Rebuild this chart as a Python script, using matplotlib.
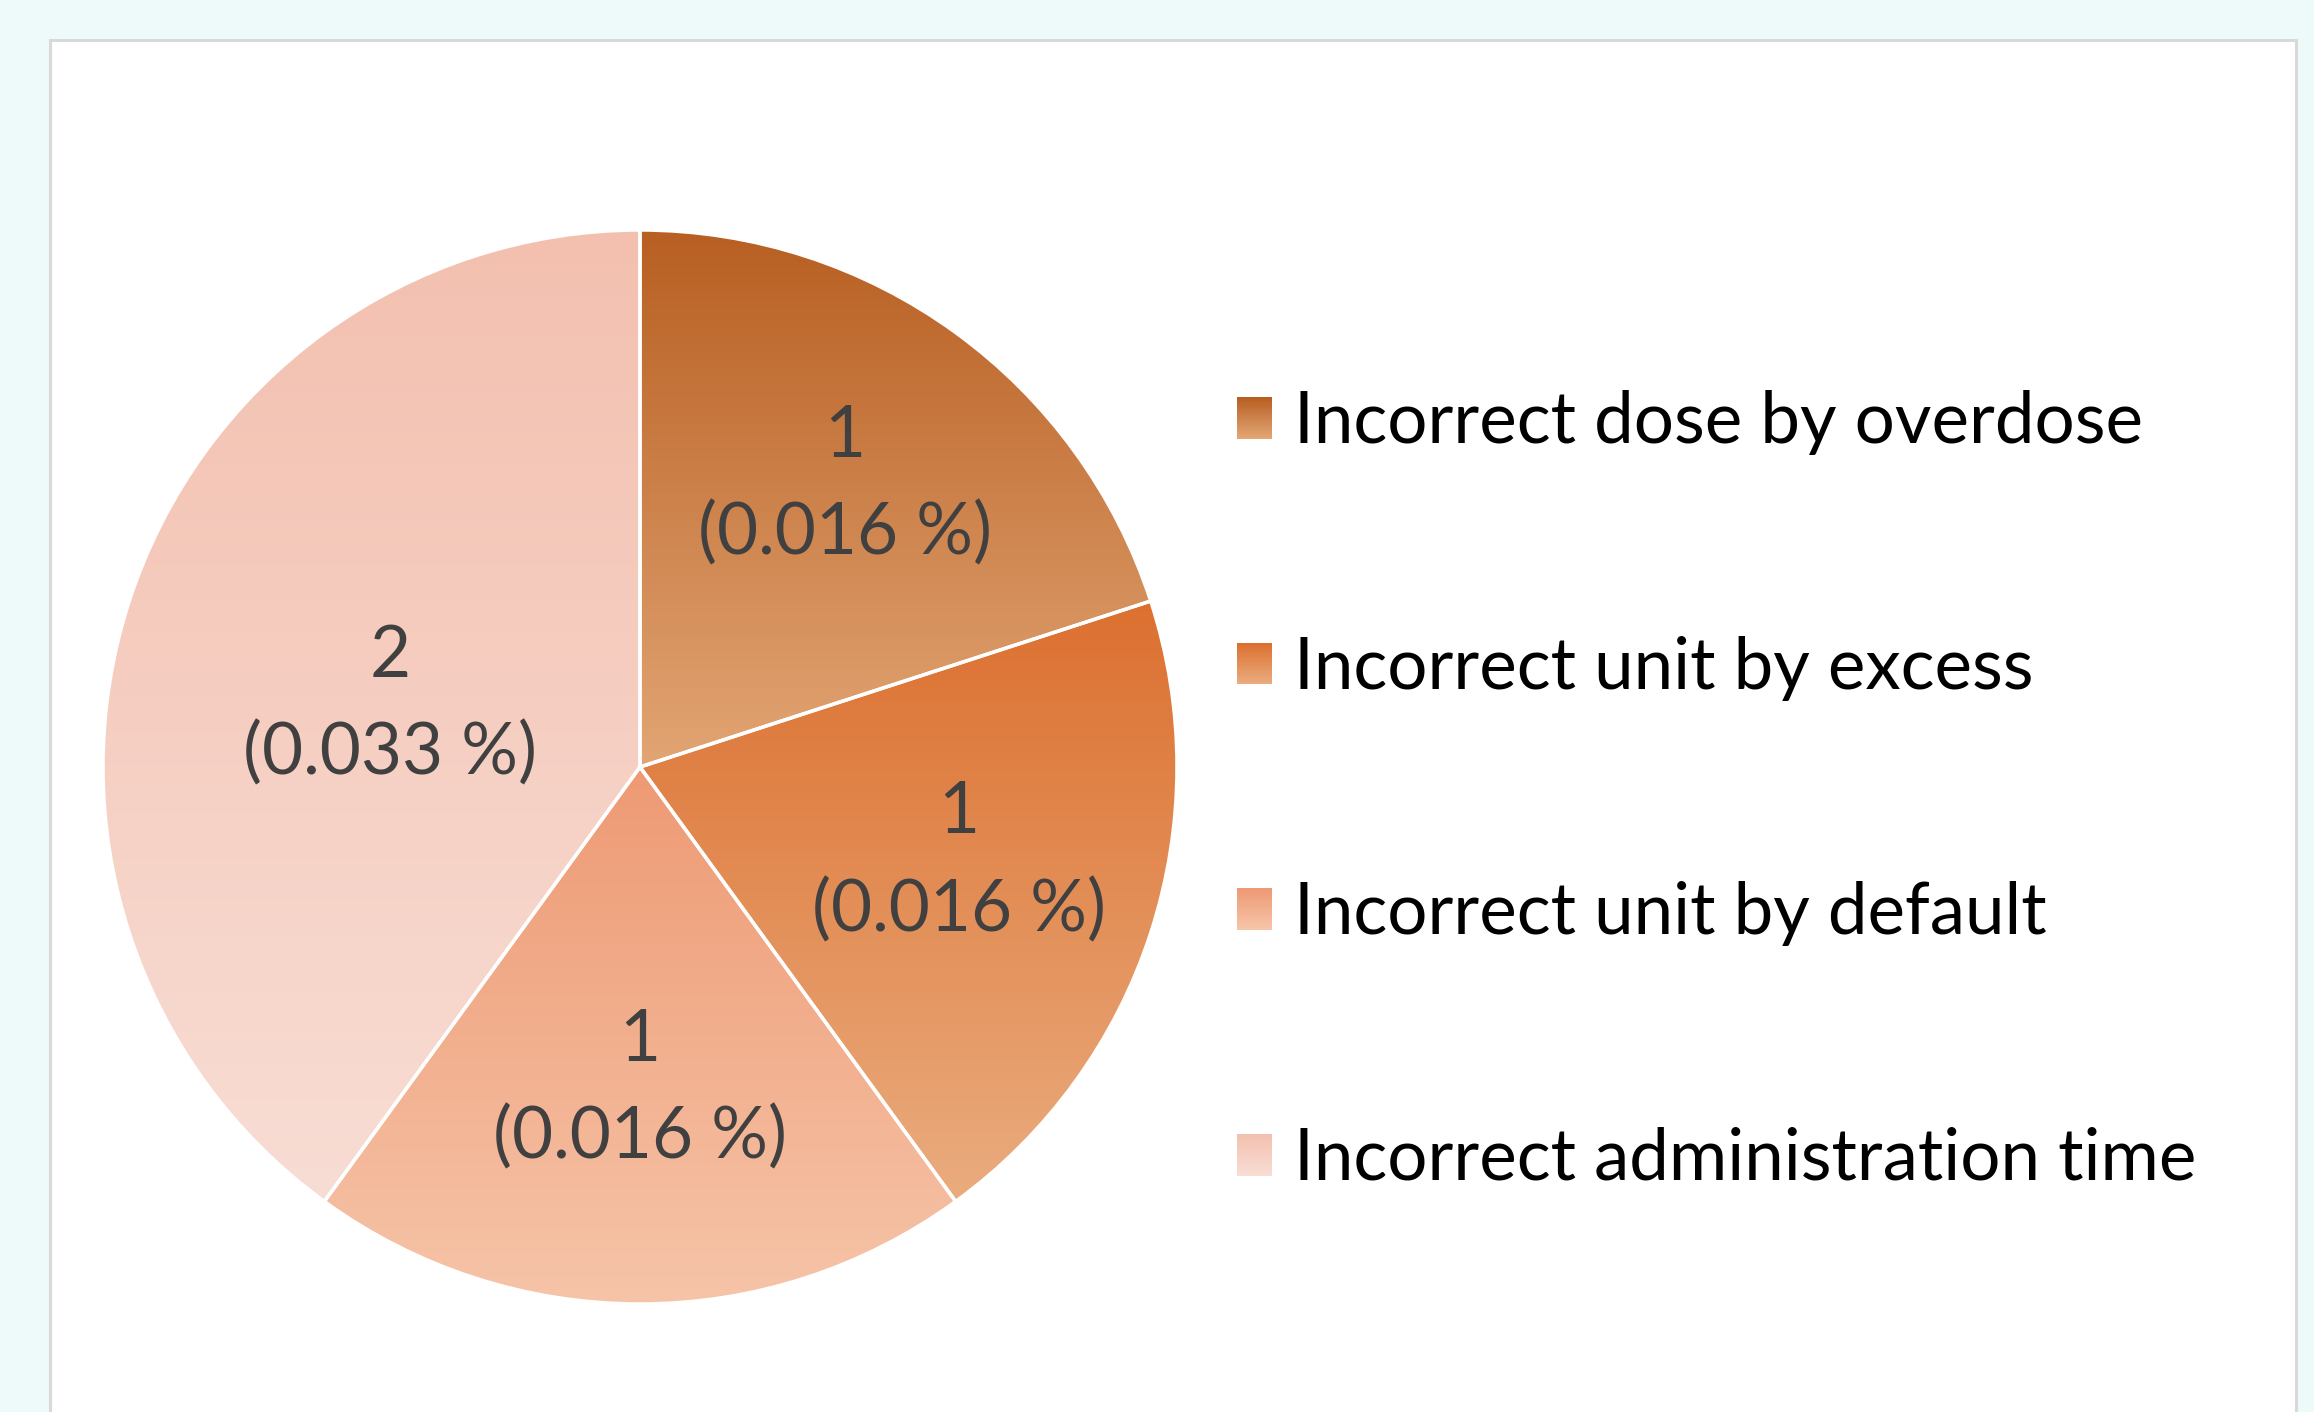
import numpy as np
import matplotlib
matplotlib.use("Agg")
import matplotlib.pyplot as plt
from matplotlib.patches import Rectangle
from matplotlib.legend_handler import HandlerBase
from matplotlib.colors import to_rgb

# ---- data ----
categories = ["Incorrect dose by overdose", "Incorrect unit by excess",
              "Incorrect unit by default", "Incorrect administration time"]
counts = [1, 1, 1, 2]
percents = [0.016, 0.016, 0.016, 0.033]

# ---- style ----
top_colors = ["#B85F22", "#DC7030", "#EE9A74", "#F3C0AF"]
bottom_colors = ["#E2A574", "#EAAC7E", "#F6C4A8", "#F8DDD4"]
label_dist = [0.65, 0.62, 0.60, 0.48]
label_angle_shift = [0, 1.5, 0, 4]
FONT = "Lato"
FS = 51

W, H = 2314, 1412
fig = plt.figure(figsize=(W / 100, H / 100), dpi=100)
fig.patch.set_facecolor("#EEFAFA")

# white panel
panel = Rectangle((49.5 / W, -0.02), (2295.5 - 49.5) / W, (H - 39.5) / H + 0.02,
                  transform=fig.transFigure, facecolor="white",
                  edgecolor="#D9D9D9", linewidth=2.2, zorder=-10)
fig.patches.append(panel)

cx, cy, r = 640, 767, 537
ax = fig.add_axes([(cx - r) / W, (H - cy - r) / H, 2 * r / W, 2 * r / H])
ax.set_facecolor("none")
ax.set_zorder(1)

wedges, _ = ax.pie(counts, startangle=90, counterclock=False, radius=1,
                   wedgeprops=dict(facecolor="none", edgecolor="white", linewidth=2.5))


def grad_image(c_top, c_bot, n=256):
    t = np.linspace(0, 1, n)[:, None]
    a = np.array(to_rgb(c_top))
    b = np.array(to_rgb(c_bot))
    img = a[None, None, :] * (1 - t[:, :, None]) + b[None, None, :] * t[:, :, None]
    return img


for w, ct, cb in zip(wedges, top_colors, bottom_colors):
    ext = w.get_path().get_extents(w.get_patch_transform())
    im = ax.imshow(grad_image(ct, cb), extent=[ext.x0, ext.x1, ext.y0, ext.y1],
                   origin="upper", aspect="auto", interpolation="bilinear", zorder=1)
    im.set_clip_path(w)
    w.set_zorder(2)

ax.set_xlim(-1, 1)
ax.set_ylim(-1, 1)
ax.set_aspect("auto")
ax.axis("off")

# data labels
for w, c, p, d, s in zip(wedges, counts, percents, label_dist, label_angle_shift):
    mid = np.deg2rad((w.theta1 + w.theta2) / 2 + s)
    x, y = d * np.cos(mid), d * np.sin(mid)
    ax.annotate(f"{c}", (x, y), xytext=(0, 35), textcoords="offset points",
                ha="center", va="center", fontsize=FS, family=FONT, color="#404040", zorder=3)
    ax.annotate(f"({p:.3f} %)", (x, y), xytext=(0, -35), textcoords="offset points",
                ha="center", va="center", fontsize=FS, family=FONT, color="#404040", zorder=3)


class GradHandler(HandlerBase):
    def __init__(self, ctop, cbot, n=24):
        super().__init__()
        self.ctop, self.cbot, self.n = np.array(to_rgb(ctop)), np.array(to_rgb(cbot)), n

    def create_artists(self, legend, orig_handle, xdescent, ydescent, width, height, fontsize, trans):
        arts = []
        for i in range(self.n):
            f = i / (self.n - 1)
            col = self.ctop * (1 - f) + self.cbot * f
            y = -ydescent + height * (1 - (i + 1) / self.n)
            arts.append(Rectangle((-xdescent, y), width, height / self.n * 1.05,
                                  facecolor=col, edgecolor="none", linewidth=0, transform=trans))
        return arts


hmap = {w: GradHandler(ct, cb) for w, ct, cb in zip(wedges, top_colors, bottom_colors)}
fs_px = FS * 100 / 72
leg = fig.legend(wedges, categories, handler_map=hmap, loc="center left",
                 bbox_to_anchor=(1237 / W, 1 - 791 / H), bbox_transform=fig.transFigure,
                 frameon=False, prop=dict(family=FONT, size=FS),
                 handlelength=35 / fs_px, handleheight=37 / fs_px, handletextpad=22 / fs_px,
                 labelspacing=2.55, borderpad=0, borderaxespad=0)
for t in leg.get_texts():
    t.set_color("black")

fig.savefig("out.png", dpi=100, facecolor=fig.get_facecolor())
